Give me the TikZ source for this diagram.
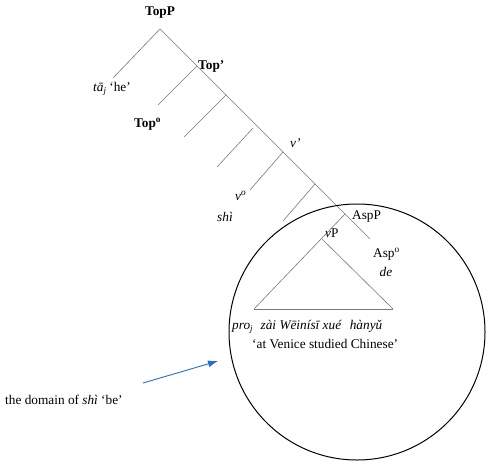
\documentclass[tikz,border=0pt]{standalone}
\usepackage{fontspec}
\setmainfont{Liberation Serif}
\usetikzlibrary{arrows.meta}
\definecolor{treegray}{RGB}{120,120,120}
\definecolor{arrowblue}{RGB}{40,110,200}
\newcommand{\lblfont}{\fontsize{13.3}{15}\selectfont}
\begin{document}
\begin{tikzpicture}[x=1pt,y=-1pt,
  branch/.style={draw=treegray, line width=0.6pt},
  lbl/.style={font=\lblfont, inner sep=0pt, anchor=west},
  boldlbl/.style={lbl, font=\lblfont\bfseries},
  domcircle/.style={draw=black, line width=1pt},
  pointer/.style={draw=arrowblue, line width=0.9pt, -{Latex[length=10pt,width=7pt]}}]
\useasboundingbox (0,0) rectangle (489,468);
% spine
\coordinate (apex) at (160,29);
\coordinate (spineEnd) at (370,239);
\draw[branch] (apex) -- (spineEnd);
% left branches
\coordinate (b1) at (113,78);
\coordinate (s2) at (197,66);  \coordinate (b2) at (158,105);
\coordinate (s3) at (226,95);  \coordinate (b3) at (184,137);
\coordinate (s4) at (253,128); \coordinate (b4) at (217,167);
\coordinate (s5) at (283,152); \coordinate (b5) at (250,190);
\coordinate (s6) at (315,184); \coordinate (b6) at (283,221);
\draw[branch] (apex) -- (b1);
\draw[branch] (s2) -- (b2);
\draw[branch] (s3) -- (b3);
\draw[branch] (s4) -- (b4);
\draw[branch] (s5) -- (b5);
\draw[branch] (s6) -- (b6);
% vP triangle
\coordinate (s7) at (345,214);
\coordinate (triL) at (254,309);
\coordinate (triTop) at (322,239);
\coordinate (triR) at (393,309);
\draw[branch] (s7) -- (triL);
\draw[branch] (triTop) -- (triR);
\draw[branch] (triL) -- (triR);
% circle
\node[domcircle, circle, minimum size=256pt, inner sep=0pt] (dom) at (357,332) {};
% labels
\node[boldlbl, anchor=center] (topp) at (160,13) {TopP};
\node[boldlbl] (topbar) at (198,66) {Top’};
\node[lbl] (taj) at (93,89) {\textit{tā}\raisebox{-0.3ex}{\fontsize{9}{11}\selectfont\textit{j}} ‘he’};
\node[boldlbl] (top0) at (134,124) {Top\textsuperscript{o}};
\node[lbl] (vbar) at (290,143) {\textit{v’}};
\node[lbl] (v0) at (235,196) {\textit{v\textsuperscript{o}}};
\node[lbl] (shi) at (217,217) {\textit{shì}};
\node[lbl] (aspp) at (352,217) {AspP};
\node[lbl] (vp) at (325,233) {\textit{v}P};
\node[lbl] (asp0) at (373,254) {Asp\textsuperscript{o}};
\node[lbl, anchor=center] (de) at (386,272) {\textit{de}};
\node[lbl] (pro) at (232,327) {\textit{pro}\raisebox{-0.3ex}{\fontsize{9}{11}\selectfont\textit{j}}\hspace{0.6em}\textit{zài Wēinísī xué\hspace{0.4em} hànyǔ}};
\node[lbl] (gloss) at (252,344) {‘at Venice studied Chinese’};
\node[lbl] (domlbl) at (5,400) {the domain of \textit{shì} ‘be’};
% arrow
\coordinate (arrStart) at (143,383);
\coordinate (arrEnd) at (218,361);
\draw[pointer] (arrStart) -- (arrEnd);
\end{tikzpicture}
\end{document}
